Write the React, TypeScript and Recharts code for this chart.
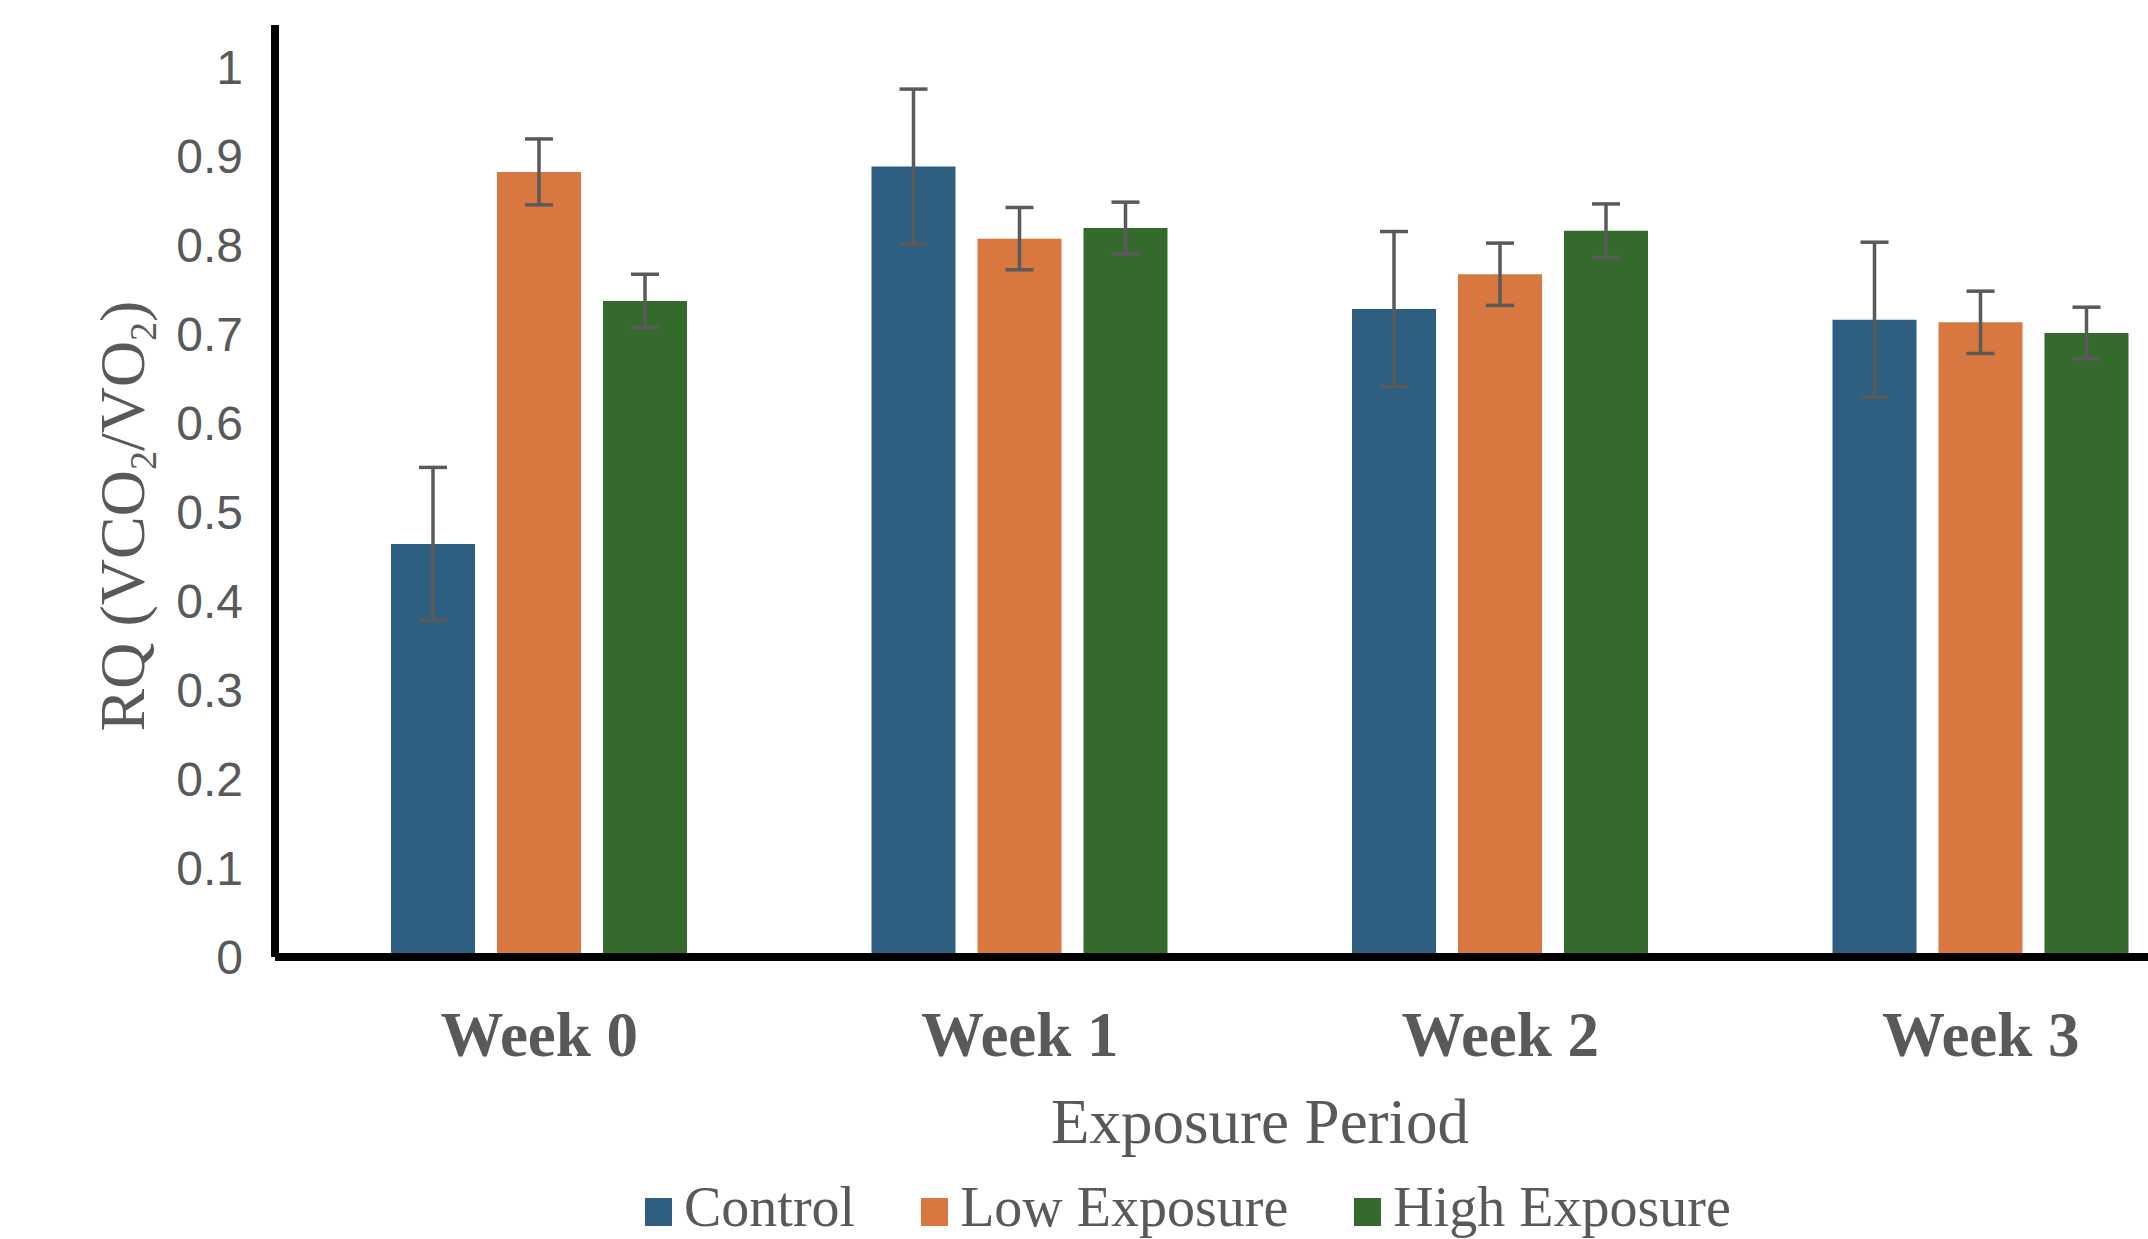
import { BarChart, Bar, XAxis, YAxis, ErrorBar } from "recharts";

const weeks = ["Week 0", "Week 1", "Week 2", "Week 3"];
const control = [0.464, 0.888, 0.728, 0.716];
const controlErr = [0.086, 0.087, 0.087, 0.087];
const lowExposure = [0.882, 0.807, 0.767, 0.713];
const lowErr = [0.037, 0.035, 0.035, 0.035];
const highExposure = [0.737, 0.819, 0.816, 0.701];
const highErr = [0.03, 0.029, 0.03, 0.029];
const yTicks = [0, 0.1, 0.2, 0.3, 0.4, 0.5, 0.6, 0.7, 0.8, 0.9, 1];

const series = [
  { key: "control", err: "controlErr", name: "Control", color: "#2E5F80" },
  { key: "low", err: "lowErr", name: "Low Exposure", color: "#D8773F" },
  { key: "high", err: "highErr", name: "High Exposure", color: "#346A2C" },
];

const data = weeks.map((w, i) => ({
  week: w,
  control: control[i],
  controlErr: controlErr[i],
  low: lowExposure[i],
  lowErr: lowErr[i],
  high: highExposure[i],
  highErr: highErr[i],
}));

const GRAY = "#595959";
const SERIF = "'Liberation Serif', 'Times New Roman', serif";

function YTitle(props: any) {
  const vb = props.viewBox || { x: 0, y: 0, width: 0, height: 0 };
  const x = vb.x + 69;
  const y = vb.y + vb.height / 2 + 25;
  return (
    <text
      x={x}
      y={y}
      transform={`rotate(-90, ${x}, ${y})`}
      textAnchor="middle"
      fontFamily={SERIF}
      fontSize={64}
      fill={GRAY}
    >
      RQ (VCO
      <tspan dy={12} fontSize={38}>2</tspan>
      <tspan dy={-12}>/VO</tspan>
      <tspan dy={12} fontSize={38}>2</tspan>
      <tspan dy={-12}>)</tspan>
    </text>
  );
}

function XTitle(props: any) {
  const vb = props.viewBox || { x: 0, y: 0, width: 0, height: 0 };
  return (
    <text
      x={vb.x + 985}
      y={vb.y + 186}
      textAnchor="middle"
      fontFamily={SERIF}
      fontSize={63}
      fill={GRAY}
    >
      Exposure Period
    </text>
  );
}

export default function App() {
  return (
    <div
      style={{
        position: "fixed",
        left: 0,
        top: 0,
        width: 2148,
        height: 1239,
        overflow: "hidden",
        background: "#fff",
      }}
    >
      <BarChart
        width={2221}
        height={1239}
        data={data}
        margin={{ top: 25, right: 0, left: 75, bottom: 0 }}
        barSize={84}
        barGap={22}
      >
        <XAxis
          dataKey="week"
          height={282}
          padding={{ left: 24, right: 0 }}
          axisLine={{ stroke: "#000", strokeWidth: 8 }}
          tickLine={false}
          tickSize={0}
          tickMargin={54}
          tick={{ fill: GRAY, fontSize: 63, fontFamily: SERIF, fontWeight: "bold" }}
          label={<XTitle />}
        />
        <YAxis
          width={200}
          domain={[0, 1.047]}
          ticks={yTicks}
          allowDataOverflow
          axisLine={{ stroke: "#000", strokeWidth: 8 }}
          tickLine={false}
          tickSize={0}
          tickMargin={32}
          tick={{ fill: GRAY, fontSize: 48, fontFamily: "'Liberation Sans', Arial, sans-serif" }}
          label={<YTitle />}
        />
        {series.map((s) => (
          <Bar key={s.key} dataKey={s.key} name={s.name} fill={s.color} isAnimationActive={false}>
            <ErrorBar
              dataKey={s.err}
              width={14}
              stroke="#5a5a5a"
              strokeWidth={3.5}
              direction="y"
              isAnimationActive={false}
            />
          </Bar>
        ))}
      </BarChart>

      <div
        style={{
          position: "absolute",
          left: 645,
          top: 1179,
          fontFamily: SERIF,
          fontSize: 56,
          lineHeight: "57px",
          color: GRAY,
          whiteSpace: "nowrap",
        }}
      >
        {series.map((s) => (
          <span key={s.key} style={{ marginRight: 66 }}>
            <span
              style={{
                display: "inline-block",
                width: 27,
                height: 28,
                background: s.color,
                marginRight: 12,
              }}
            />
            {s.name}
          </span>
        ))}
      </div>
    </div>
  );
}
